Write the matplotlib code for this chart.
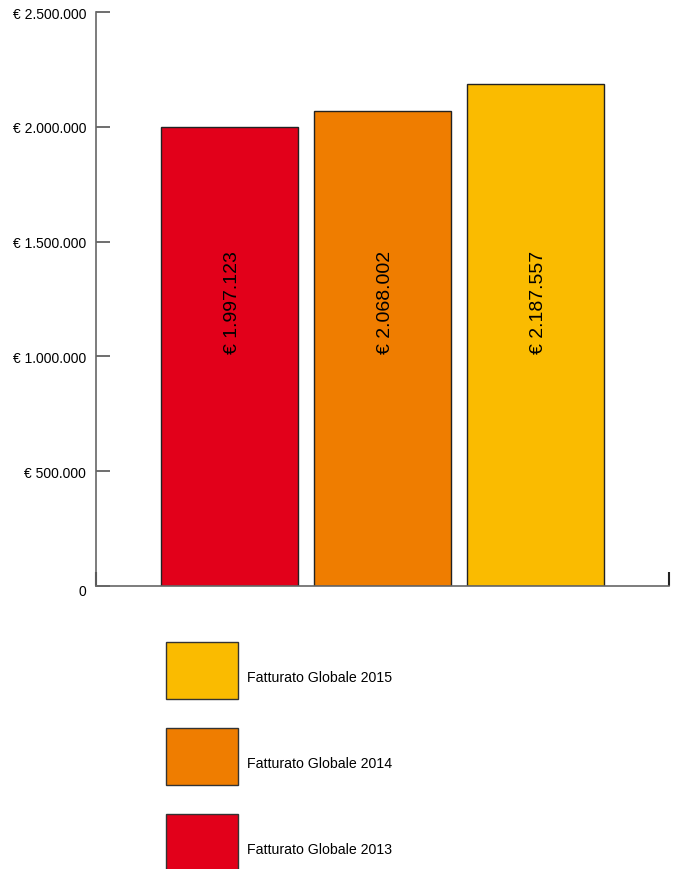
import matplotlib
matplotlib.use("Agg")
import matplotlib.pyplot as plt
from matplotlib.patches import Rectangle
from matplotlib.transforms import offset_copy

plt.rcParams['font.family'] = ['Liberation Sans', 'DejaVu Sans']

# data
anni = ["2013", "2014", "2015"]
fatturato = [1997123, 2068002, 2187557]
etichette = ["€ 1.997.123", "€ 2.068.002", "€ 2.187.557"]
colori = ["#E2001A", "#EF7D00", "#FABB00"]
tick_vals = [0, 500000, 1000000, 1500000, 2000000, 2500000]
tick_labels = ["0", "€ 500.000", "€ 1.000.000", "€ 1.500.000", "€ 2.000.000", "€ 2.500.000"]

fig = plt.figure(figsize=(6.8, 8.7), dpi=100)
ax = fig.add_axes([96 / 680, 1 - 587 / 870, 573 / 680, 574 / 870])

x = list(range(len(anni)))
bars = ax.bar(x, fatturato, width=137 / 153, color=colori, edgecolor="#222222", linewidth=1)
for xi, v, lab in zip(x, fatturato, etichette):
    ax.text(xi + 0.02, 1.24e6, lab, rotation=90, ha="center", va="center", fontsize=14, color="black")

ax.set_xlim(-0.8725, 2.8725)
ax.set_ylim(0, 2500000)
ax.set_yticks(tick_vals)
ax.set_yticklabels(tick_labels, fontsize=10)
ax.tick_params(axis="y", direction="in", length=10, width=1.2, color="#555555", pad=7)
ax.set_xticks([-0.8725, 2.8725])
ax.set_xticklabels([])
ax.tick_params(axis="x", direction="in", length=10, width=1.5, color="#222222")
for s in ["top", "right"]:
    ax.spines[s].set_visible(False)
for s in ["left", "bottom"]:
    ax.spines[s].set_color("#666666")
    ax.spines[s].set_linewidth(1.2)
for t in ax.get_yticklabels():
    t.set_va("center_baseline")
# the "0" label sits a bit lower
zero = ax.get_yticklabels()[0]
zero.set_transform(offset_copy(zero.get_transform(), fig=fig, x=0, y=-4, units="dots"))

# legend, manual, stacked top-down 2015 -> 2013
for i, (anno, col) in enumerate(zip(anni[::-1], colori[::-1])):
    top = 643 + i * 86
    fig.add_artist(Rectangle((166 / 680, 1 - (top + 57) / 870), 72 / 680, 57 / 870,
                             transform=fig.transFigure, facecolor=col,
                             edgecolor="#333333", linewidth=1))
    fig.text(247 / 680, 1 - (top + 35) / 870, "Fatturato Globale " + anno,
             fontsize=10.2, va="center", ha="left")

fig.savefig("out.png", dpi=100)
